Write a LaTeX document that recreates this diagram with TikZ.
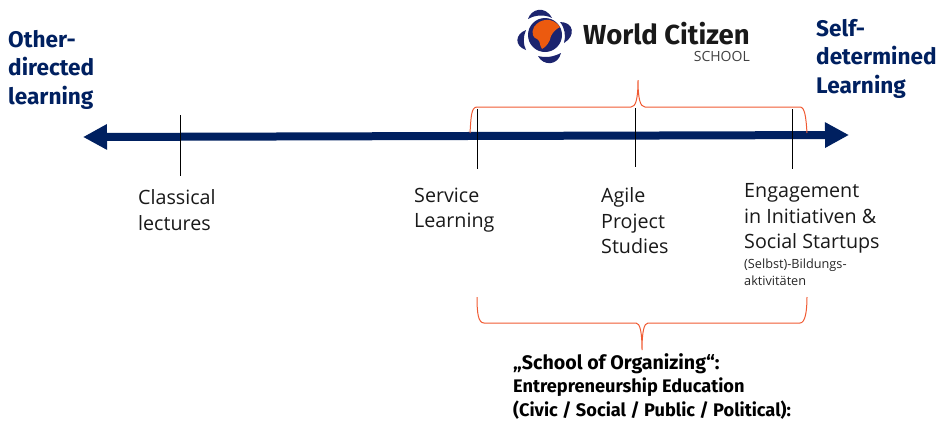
\documentclass[tikz,border=0pt]{standalone}
\usepackage{fontspec}
\setmainfont{Open Sans}
\newfontfamily\headfont{Fira Sans}
\usetikzlibrary{arrows.meta}
\definecolor{navy}{RGB}{0,32,96}
\definecolor{brace}{RGB}{240,90,50}
\definecolor{globe}{RGB}{28,36,110}
\definecolor{land}{RGB}{236,90,15}
\tikzset{
  x=1pt,y=-1pt,
  axis/.style={navy,line width=8pt,{Triangle[length=24pt,width=24pt]}-{Triangle[length=24pt,width=24pt]}},
  tick/.style={black,line width=1pt},
  bracecurve/.style={brace,line width=1pt},
  headline/.style={navy,font=\headfont\bfseries\fontsize{22.6}{28.5}\selectfont,align=left,anchor=north west,inner sep=0pt},
  bodytext/.style={black!90,font=\fontsize{19.7}{25.6}\selectfont,align=left,anchor=north west,inner sep=0pt},
  smalltext/.style={black!85,font=\fontsize{12.7}{17}\selectfont,align=left,anchor=north west,inner sep=0pt},
  organ/.style={black,font=\headfont\bfseries\fontsize{18.2}{23.5}\selectfont,align=left,anchor=north west,inner sep=0pt},
  swoosh/.style={fill=globe,draw=none}
}
\begin{document}
\begin{tikzpicture}
\useasboundingbox (0,0) rectangle (939,421);
% axis
\coordinate (axL) at (83,137);
\coordinate (axR) at (849,135);
\draw[axis] (axL) -- (axR);
% ticks
\coordinate (t0a) at (180,115); \coordinate (t0b) at (180,176);
\coordinate (t1a) at (477,109); \coordinate (t1b) at (477,169);
\coordinate (t2a) at (635,108); \coordinate (t2b) at (635,167);
\coordinate (t3a) at (792,109); \coordinate (t3b) at (792,169);
\draw[tick] (t0a) -- (t0b);
\draw[tick] (t1a) -- (t1b);
\draw[tick] (t2a) -- (t2b);
\draw[tick] (t3a) -- (t3b);
% top brace
\coordinate (b1l) at (470,133); \coordinate (b1r) at (807,133); \coordinate (b1t) at (638,80);
\draw[bracecurve] (b1l) .. controls (471,118) and (471,107) .. (477,107) -- (631,107)
   .. controls (636,107) and (638,98) .. (b1t)
   .. controls (638,98) and (640,107) .. (645,107) -- (800,107)
   .. controls (805,107) and (806,118) .. (b1r);
% bottom brace
\coordinate (b2l) at (477,297); \coordinate (b2r) at (807,297); \coordinate (b2b) at (642,350);
\draw[bracecurve] (b2l) .. controls (477,312) and (478,323) .. (484,323) -- (636,323)
   .. controls (640,323) and (642,332) .. (b2b)
   .. controls (642,332) and (644,323) .. (648,323) -- (800,323)
   .. controls (805,323) and (807,312) .. (b2r);
% headings
\node[headline] (other) at (8,30) {Other-\\directed\\learning};
\node[headline] (self) at (816,19) {Self-\\determined\\Learning};
% labels
\node[bodytext] (classical) at (138,189.5) {Classical\\lectures};
\node[bodytext] (service) at (414,187.5) {Service\\Learning};
\node[bodytext] (agile) at (601,187.5) {Agile\\Project\\Studies};
\node[bodytext] (engage) at (744,183.5) {Engagement\\in Initiativen \&\\Social Startups};
\node[smalltext] (selbst) at (744,259) {(Selbst)-Bildungs-\\aktivitäten};
\node[organ] (school) at (513,353) {{\fontsize{19.6}{23.5}\selectfont „School of Organizing“:}\\
  Entrepreneurship Education\\
  (Civic / Social / Public / Political):};
% logo
\fill[globe] (545,35) circle (17);
\fill[land] (534,27) .. controls (540,18) and (553,17) .. (560,27)
  .. controls (556,29) and (553,32) .. (551,36)
  .. controls (550,42) and (546,47) .. (542,49)
  .. controls (539,45) and (541,41) .. (537,39)
  .. controls (533,38) and (531,33) .. (534,27) -- cycle;
\fill[swoosh] (528,19) .. controls (531,9) and (545,5) .. (552,18) .. controls (544,14) and (535,15) .. (528,19) -- cycle;
\fill[swoosh] (538,56) .. controls (546,58) and (553,57) .. (561,53) .. controls (558,66) and (543,66) .. (538,56) -- cycle;
\fill[swoosh] (526,30) .. controls (515,34) and (514,46) .. (526,50) .. controls (523,44) and (523,37) .. (526,30) -- cycle;
\fill[swoosh] (560,22) .. controls (574,22) and (576,36) .. (564,43) .. controls (566,36) and (565,28) .. (560,22) -- cycle;
\node[black!90,font=\headfont\bfseries\fontsize{27.5}{30}\selectfont,anchor=west,inner sep=0pt] (wc) at (583,34) {World Citizen};
\node[black!75,font=\fontsize{14}{16}\selectfont,anchor=east,inner sep=0pt] (sch) at (750,56) {SCHOOL};
\end{tikzpicture}
\end{document}
